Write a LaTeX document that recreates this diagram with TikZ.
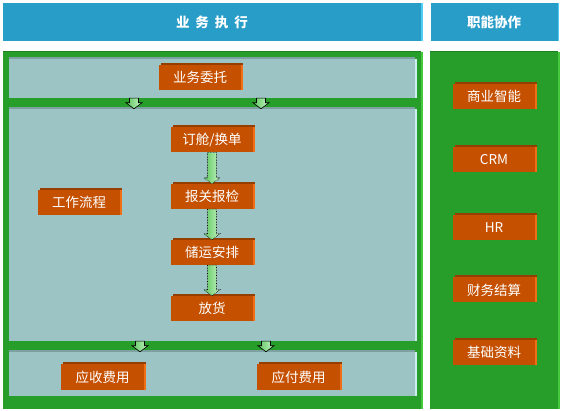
\documentclass[tikz,border=0pt]{standalone}
\usepackage{fontspec}
\newfontfamily\cjk{Noto Sans CJK SC}
\usetikzlibrary{calc}
\definecolor{headblue}{RGB}{40,157,200}
\definecolor{headedge}{RGB}{80,205,240}
\definecolor{bggreen}{RGB}{40,158,42}
\definecolor{greenedge}{RGB}{70,200,60}
\definecolor{greentop}{RGB}{30,130,32}
\definecolor{panelc}{RGB}{157,196,196}
\definecolor{paneltop}{RGB}{125,160,160}
\definecolor{paneledge}{RGB}{205,238,238}
\definecolor{boxor}{RGB}{197,80,0}
\definecolor{boxtop}{RGB}{150,62,0}
\definecolor{boxedge}{RGB}{240,110,20}
\definecolor{arrdark}{RGB}{95,200,95}
\definecolor{arrlight}{RGB}{195,242,195}
% khoi mui ten tu #2 xuong #3
\newcommand\blockarr[3][]{%
	\path[arr,#1] ($(#2)+(-\sw,0)$) -- ($(#3)+(-\sw,-\hl)$) -- ($(#3)+(-\hw,-\hl)$) -- (#3)
	-- ($(#3)+(\hw,-\hl)$) -- ($(#3)+(\sw,-\hl)$) -- ($(#2)+(\sw,0)$) -- cycle;}
\begin{document}
\begin{tikzpicture}[x = 1pt, y = -1pt, font = \cjk\fontsize{13.5pt}{16pt}\selectfont,
	head/.style = {fill = headblue, text = white, inner sep = 0pt, minimum height = 38pt,
		font = \cjk\bfseries\fontsize{13.5pt}{16pt}\selectfont,
		preaction = {fill = headedge, transform canvas = {xshift = 1.5pt}}},
	back/.style = {fill = bggreen, inner sep = 0pt, minimum height = 357pt,
		preaction = {fill = greentop, transform canvas = {yshift = 1pt}},
		preaction = {fill = greenedge, transform canvas = {xshift = 2pt}}},
	panel/.style = {fill = panelc, inner sep = 0pt, minimum width = 406pt,
		preaction = {fill = paneltop, transform canvas = {yshift = 2pt}},
		preaction = {fill = paneledge, transform canvas = {xshift = 2pt}}},
	box/.style = {fill = boxor, text = white, inner sep = 0pt, minimum width = 82pt, minimum height = 25pt,
		preaction = {fill = boxtop, transform canvas = {xshift = 2pt, yshift = 2pt}},
		preaction = {fill = boxedge, transform canvas = {xshift = 2pt}}},
	arr/.style = {left color = arrdark, right color = arrlight, draw = black, line width = .6pt},
	flow/.style = {densely dotted}]
	\def\sw{4.5}  %nua be rong than
	\def\hw{8}    %nua be rong dau
	\def\hl{6}    %chieu dai dau
	\useasboundingbox (0,0) rectangle (562,411);
	
	\node[head, minimum width = 418pt] (hl) at (212,22) {业\hspace{6pt}务\hspace{6pt}执\hspace{6pt}行};
	\node[head, minimum width = 127pt] (hr) at (494,22) {职能协作};
	\node[back, minimum width = 418pt] (gl) at (212,230.5) {};
	\node[back, minimum width = 128pt] (gr) at (494,230.5) {};
	
	\node[panel, minimum height = 39pt] (p1) at (212,78.5) {};
	\node[panel, minimum height = 232pt] (p2) at (212,225) {};
	\node[panel, minimum height = 44pt] (p3) at (212,374) {};
	
	\node[box] (wt) at (200,77.5) {业务委托};
	\node[box] (lc) at (79,202.5) {工作流程};
	\node[box] (dc) at (212,140) {订舱/换单};
	\node[box] (bg) at (212,196.5) {报关报检};
	\node[box] (cy) at (212,252.5) {储运安排};
	\node[box] (fh) at (212,308.5) {放货};
	\node[box, minimum width = 83pt] (ys) at (102.5,377) {应收费用};
	\node[box, minimum width = 83pt] (yf) at (298.5,377) {应付费用};
	
	\node[box] (sy) at (494,96.5) {商业智能};
	\node[box] (crm) at (494,159.5) {CRM};
	\node[box] (hr) at (494,228) {HR};
	\node[box] (cw) at (494,290) {财务结算};
	\node[box] (jc) at (494,352.5) {基础资料};
	
	\blockarr{134,0 |- p1.south}{134,0 |- p2.north}
	\blockarr{261,0 |- p1.south}{261,0 |- p2.north}
	\blockarr{140,0 |- p2.south}{140,0 |- p3.north}
	\blockarr{266,0 |- p2.south}{266,0 |- p3.north}
	\blockarr[flow]{dc.south}{bg.north}
	\blockarr[flow]{bg.south}{cy.north}
	\blockarr[flow]{cy.south}{fh.north}
\end{tikzpicture}
\end{document}
